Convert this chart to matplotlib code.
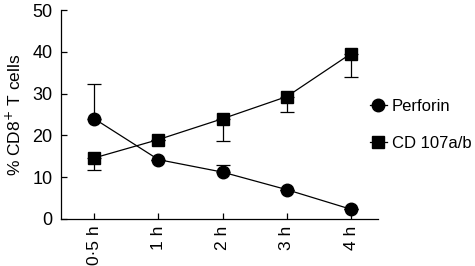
import matplotlib.pyplot as plt
import numpy as np

plt.rcParams['font.family'] = ['Liberation Sans', 'DejaVu Sans']

time_labels = ['0\u00b75 h', '1 h', '2 h', '3 h', '4 h']

perforin = [24.0, 14.2, 11.2, 7.0, 2.3]
perforin_err_up = [8.3, 0.0, 1.6, 0.0, 0.0]

cd107 = [14.6, 19.0, 24.0, 29.3, 39.6]
cd107_err_down = [2.9, 0.0, 5.3, 3.8, 5.6]


def main():
    fig = plt.figure(figsize=(4.75, 2.66), dpi=100)
    ax = fig.add_axes([0.128, 0.177, 0.668, 0.785])

    x = np.arange(len(time_labels))
    zeros = np.zeros(len(x))
    ax.errorbar(x, perforin, yerr=[zeros, perforin_err_up], fmt='none',
                ecolor='black', elinewidth=0.9, capsize=5, capthick=0.9)
    ax.errorbar(x, cd107, yerr=[cd107_err_down, zeros], fmt='none',
                ecolor='black', elinewidth=0.9, capsize=5, capthick=0.9)

    ax.plot(x, perforin, '-o', color='black', lw=0.9, ms=9, label='Perforin')
    ax.plot(x, cd107, '-s', color='black', lw=0.9, ms=9, label='CD 107a/b')

    ax.set_xlim(-0.52, 4.42)
    ax.set_ylim(0, 50)
    ax.set_xticks(x)
    ax.set_xticklabels(time_labels, rotation=90, fontsize=12.5)
    ax.set_yticks([0, 10, 20, 30, 40, 50])
    ax.tick_params(axis='y', labelsize=13, direction='in', length=4, width=0.9, pad=6)
    ax.tick_params(axis='x', direction='in', length=4, width=0.9, pad=5)
    ax.set_ylabel('% CD8$^{+}$ T cells', fontsize=12.5, labelpad=6)

    ax.spines['top'].set_visible(False)
    ax.spines['right'].set_visible(False)
    ax.spines['left'].set_linewidth(0.9)
    ax.spines['bottom'].set_linewidth(0.9)

    fig.legend(loc='center left', bbox_to_anchor=(370 / 475, 1 - 125 / 266),
               bbox_transform=fig.transFigure, frameon=False, borderpad=0,
               borderaxespad=0, fontsize=12, handlelength=1.0, handletextpad=0.3,
               labelspacing=1.35, markerscale=1.0)

    fig.savefig('out.png', dpi=100)


if __name__ == '__main__':
    main()
